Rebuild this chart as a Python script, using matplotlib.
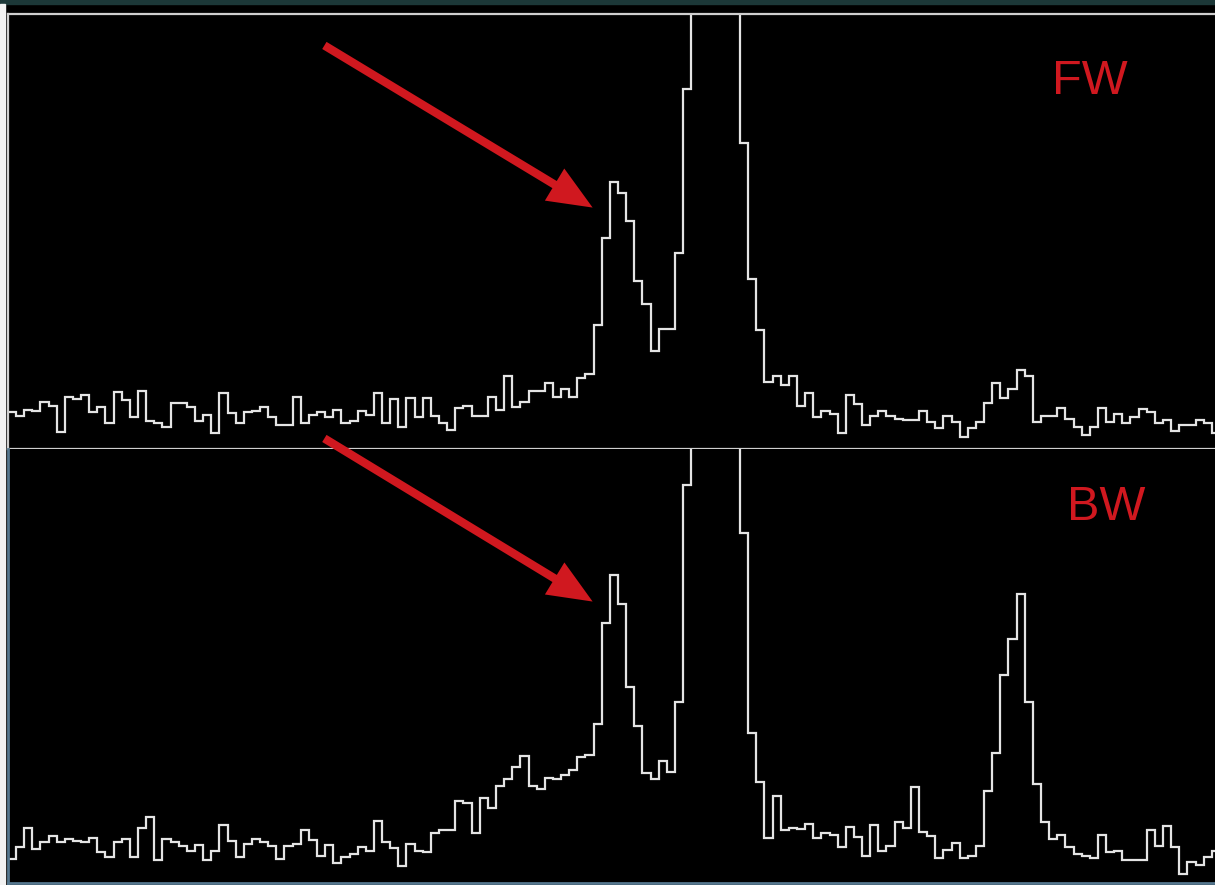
import numpy as np
import matplotlib
matplotlib.use("Agg")
import matplotlib.pyplot as plt
from matplotlib.patches import FancyArrowPatch, Rectangle

# step heights per bin, in pixels above each panel's floor
fw_y = [412, 416, 410, 411, 402, 406, 432, 397, 399, 395, 412, 407, 423, 392, 400, 417,
        391, 421, 423, 427, 403, 403, 407, 421, 415, 433, 393, 413, 423, 412, 411, 407,
        417, 425, 425, 397, 423, 415, 412, 417, 410, 423, 421, 411, 415, 393, 423, 399,
        427, 398, 417, 398, 416, 423, 430, 408, 406, 416, 416, 397, 410, 376, 407, 402,
        391, 391, 383, 397, 389, 397, 378, 374, 325, 238, 182, 193, 221, 281, 304, 351,
        329, 329, 253, 89, -80, -150, -180, -170, -130, -60, 143, 279, 330, 382, 376, 385,
        376, 406, 393, 417, 411, 414, 433, 395, 404, 425, 416, 411, 416, 419, 420, 420,
        411, 422, 428, 416, 422, 437, 428, 422, 403, 383, 398, 389, 370, 376, 422, 416,
        416, 408, 419, 427, 435, 427, 408, 422, 414, 423, 417, 409, 412, 423, 420, 431,
        425, 425, 420, 423, 433]
bw_y = [859, 847, 828, 849, 842, 836, 842, 839, 841, 842, 838, 852, 857, 842, 839, 857,
        828, 817, 860, 839, 842, 846, 851, 845, 860, 851, 825, 841, 857, 844, 839, 842,
        846, 859, 846, 844, 830, 840, 856, 845, 863, 857, 854, 847, 851, 821, 842, 848,
        866, 844, 851, 852, 833, 830, 830, 801, 803, 833, 798, 808, 786, 779, 767, 756,
        786, 789, 778, 779, 775, 770, 757, 755, 724, 623, 575, 604, 687, 726, 773, 779,
        761, 772, 702, 485, 300, 230, 200, 210, 250, 330, 533, 733, 782, 838, 796, 830,
        828, 829, 824, 838, 833, 835, 847, 827, 837, 856, 825, 851, 846, 822, 828, 787,
        832, 836, 858, 850, 843, 858, 856, 846, 791, 753, 675, 639, 594, 702, 784, 822,
        839, 835, 847, 854, 856, 858, 835, 852, 851, 860, 860, 860, 830, 846, 826, 847,
        874, 862, 865, 857, 851]

fw = 449 - np.array(fw_y, dtype=float)
bw = 883 - np.array(bw_y, dtype=float)
edges = np.arange(len(fw) + 1)

W, H = 1215, 885
bin_px = 8.135
x0 = 7.87
fig = plt.figure(figsize=(W / 100, H / 100), dpi=100, facecolor="black")

# outer frame bits
fig.patches.append(Rectangle((0, (H - 4) / H), 1, 4 / H, transform=fig.transFigure,
                             color="#1c3838", zorder=0))
fig.patches.append(Rectangle((0, 0), 5 / W, (H - 4) / H, transform=fig.transFigure,
                             color="#f2f2f2", zorder=0))

ax_w = (W - x0) / W
ax1 = fig.add_axes([x0 / W, (H - 449) / H, ax_w, 435 / H])
ax2 = fig.add_axes([x0 / W, (H - 883) / H, ax_w, 434 / H])

for ax, vals, top in [(ax1, fw, 435), (ax2, bw, 434)]:
    ax.set_facecolor("black")
    ax.stairs(vals, edges, baseline=None, color="#e4e4e4", lw=1.6)
    ax.set_xlim(0, (W - x0) / bin_px)
    ax.set_ylim(0, top)
    ax.set_xticks([])
    ax.set_yticks([])
    ax.spines["right"].set_visible(False)

for s in ["top", "left", "bottom"]:
    ax1.spines[s].set_color("#cfcfcf")
    ax1.spines[s].set_linewidth(1.6)
ax2.spines["top"].set_visible(False)
for s in ["left", "bottom"]:
    ax2.spines[s].set_color("#56788f")
    ax2.spines[s].set_linewidth(2)

red = "#d0181f"
for (tx, ty), (hx, hy) in [((322, 44), (595, 209)), ((322, 437), (595, 603))]:
    arr = FancyArrowPatch((tx, H - ty), (hx, H - hy), transform=None,
                          arrowstyle="simple,head_length=32,head_width=27,tail_width=6",
                          color=red, lw=0, zorder=10)
    fig.patches.append(arr)

fig.text(1090 / W, (H - 82) / H, "FW", color=red, fontsize=35,
         family="Liberation Sans", ha="center", va="center")
fig.text(1106 / W, (H - 508) / H, "BW", color=red, fontsize=35,
         family="Liberation Sans", ha="center", va="center")

fig.savefig("out.png", dpi=100, facecolor=fig.get_facecolor())
